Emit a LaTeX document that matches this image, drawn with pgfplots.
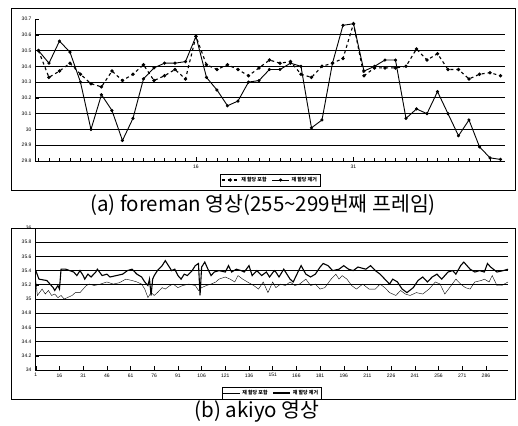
\documentclass[border=0pt]{standalone}
\usepackage{fontspec}
\setmainfont{Liberation Sans}
\newfontfamily\kr{Noto Sans CJK KR}
\usepackage{pgfplots}
\usepackage{pgfplotstable}
\pgfplotsset{compat=1.18}

\pgfplotstableread{
f incl excl
1 30.50 30.50
2 30.33 30.42
3 30.37 30.56
4 30.42 30.49
5 30.35 30.30
6 30.29 30.00
7 30.27 30.22
8 30.37 30.12
9 30.31 29.93
10 30.35 30.07
11 30.41 30.32
12 30.31 30.39
13 30.34 30.42
14 30.38 30.42
15 30.32 30.43
16 30.59 30.59
17 30.41 30.33
18 30.38 30.25
19 30.41 30.15
20 30.38 30.18
21 30.34 30.30
22 30.39 30.31
23 30.44 30.38
24 30.42 30.38
25 30.43 30.42
26 30.35 30.40
27 30.33 30.01
28 30.40 30.06
29 30.42 30.42
30 30.45 30.66
31 30.67 30.67
32 30.34 30.37
33 30.39 30.40
34 30.39 30.44
35 30.39 30.44
36 30.40 30.07
37 30.51 30.13
38 30.44 30.10
39 30.48 30.24
40 30.38 30.10
41 30.38 29.96
42 30.32 30.06
43 30.35 29.89
44 30.36 29.82
45 30.34 29.81
}\foreman

% akiyo, re-allocation included (thin)
\pgfplotstableread{
f v
1 35.26
2 35.05
5 35.14
7 35.07
9 35.12
11 35.05
13 35.07
15 35.02
17 35.05
19 35.00
21 35.02
24 35.05
26 35.09
29 35.09
31 35.14
33 35.19
35 35.21
38 35.19
42 35.21
46 35.24
50 35.21
54 35.23
58 35.28
62 35.26
65 35.24
68 35.21
70 35.14
72 35.02
74 35.09
76 35.05
78 35.09
81 35.16
83 35.14
86 35.19
88 35.21
91 35.16
94 35.19
98 35.21
102 35.19
104 35.12
106 35.16
109 35.19
112 35.21
115 35.24
117 35.28
121 35.31
124 35.28
127 35.24
129 35.33
132 35.28
135 35.24
139 35.19
142 35.14
145 35.24
148 35.09
151 35.24
153 35.16
156 35.21
159 35.19
162 35.24
165 35.19
168 35.21
172 35.28
175 35.19
178 35.21
181 35.14
184 35.16
188 35.28
191 35.35
193 35.28
195 35.33
198 35.28
201 35.19
204 35.14
208 35.21
212 35.14
216 35.14
219 35.21
222 35.16
225 35.09
229 35.05
232 35.12
235 35.07
238 35.05
242 35.09
246 35.07
250 35.14
254 35.24
257 35.21
260 35.07
264 35.19
267 35.28
270 35.21
273 35.16
276 35.14
279 35.24
283 35.26
285 35.28
288 35.24
290 35.33
293 35.19
296 35.19
300 35.24
}\akiyoIncl

% akiyo, re-allocation removed (thick)
\pgfplotstableread{
f v
1 35.40
3 35.28
8 35.26
10 35.21
12 35.16
13 35.12
15 35.19
16 35.14
17 35.42
20 35.42
25 35.38
27 35.33
29 35.40
31 35.33
32 35.28
34 35.35
36 35.31
39 35.38
40 35.42
43 35.33
46 35.35
48 35.31
52 35.33
56 35.35
59 35.40
62 35.42
65 35.35
68 35.31
70 35.24
72 35.19
73 35.28
74 35.05
75 35.28
76 35.33
78 35.40
81 35.47
83 35.54
85 35.47
87 35.40
89 35.42
91 35.33
93 35.28
95 35.35
97 35.33
100 35.40
102 35.47
104 35.50
105 35.05
106 35.45
108 35.52
110 35.42
112 35.33
114 35.38
117 35.40
121 35.38
123 35.47
125 35.38
128 35.42
131 35.40
133 35.38
136 35.47
138 35.33
141 35.40
144 35.33
147 35.38
149 35.31
152 35.40
153 35.38
155 35.31
158 35.42
162 35.28
164 35.24
167 35.38
169 35.47
172 35.35
175 35.31
178 35.35
181 35.45
183 35.50
186 35.47
189 35.40
193 35.42
196 35.47
199 35.42
202 35.40
205 35.45
210 35.42
213 35.47
216 35.40
219 35.35
222 35.28
225 35.21
227 35.28
230 35.24
233 35.14
236 35.09
240 35.16
243 35.26
246 35.31
249 35.24
252 35.31
255 35.35
258 35.28
262 35.38
265 35.40
267 35.35
270 35.47
272 35.52
276 35.42
279 35.38
282 35.40
285 35.38
287 35.50
289 35.45
293 35.38
297 35.40
300 35.42
}\akiyoExcl

\pgfplotsset{
  refchart/.style={
    scale only axis,
    axis lines*=left,
    axis line style={black, line width=0.8pt},
    ymajorgrids,
    grid style={black, line width=1pt},
    tick style={black, line width=0.5pt},
    tick label style={font=\fontsize{5}{6}\selectfont},
    /pgf/number format/assume math mode=true,
    clip=false,
    legend columns=2,
    legend style={draw=black, line width=0.7pt, font=\kr\bfseries\fontsize{5}{5.5}\selectfont,
      inner sep=1pt, row sep=0pt, /tikz/every even column/.append style={column sep=3pt}},
    legend cell align=left,
  }
}

\begin{document}
\begin{tikzpicture}
\path (0pt,0pt) rectangle (518pt,-423pt);
\draw[black, line width=0.6pt] (11pt,-8pt) rectangle (515pt,-190pt);
\draw[black, line width=0.6pt] (11pt,-228pt) rectangle (515pt,-399pt);

\begin{axis}[refchart,
  at={(35pt,-19pt)}, anchor=north west,
  width=470pt, height=142pt,
  xmin=0.67, xmax=45.43, ymin=29.8, ymax=30.7,
  xtick={16,31}, minor xtick={1,...,45},
  ytick={29.8,29.9,...,30.61}, extra y ticks={30.7}, extra y tick style={grid=none},
  yticklabel style={/pgf/number format/.cd, fixed, precision=1},
  legend style={at={(0.5,-0.134)}, anchor=center},
]
\addplot[black, line width=1.1pt, dashed, mark=*, mark size=1.1pt, mark options={solid}] table[x=f, y=incl] {\foreman};
\addlegendentry{재 할당 포함}
\addplot[black, line width=0.9pt, mark=*, mark size=1.1pt] table[x=f, y=excl] {\foreman};
\addlegendentry{재 할당 제거}
\end{axis}
\node[font=\kr\fontsize{20.5}{22}\selectfont] at (263pt,-205pt) {(a) foreman 영상(255\textasciitilde299번째 프레임)};

\begin{axis}[refchart,
  at={(35pt,-228pt)}, anchor=north west,
  width=473pt, height=142pt,
  xmin=0.5, xmax=300, ymin=34, ymax=36,
  xtick={1,16,...,286},
  ytick={34,34.2,...,35.81}, extra y ticks={36}, extra y tick style={grid=none},
  legend style={at={(0.5,-0.162)}, anchor=center},
]
\addplot[black, line width=0.4pt] table[x=f, y=v] {\akiyoIncl};
\addlegendentry{재 할당 포함}
\addplot[black, line width=1.1pt] table[x=f, y=v] {\akiyoExcl};
\addlegendentry{재 할당 제거}
\end{axis}
\node[font=\kr\fontsize{20.5}{22}\selectfont] at (257pt,-411pt) {(b) akiyo 영상};
\end{tikzpicture}
\end{document}
